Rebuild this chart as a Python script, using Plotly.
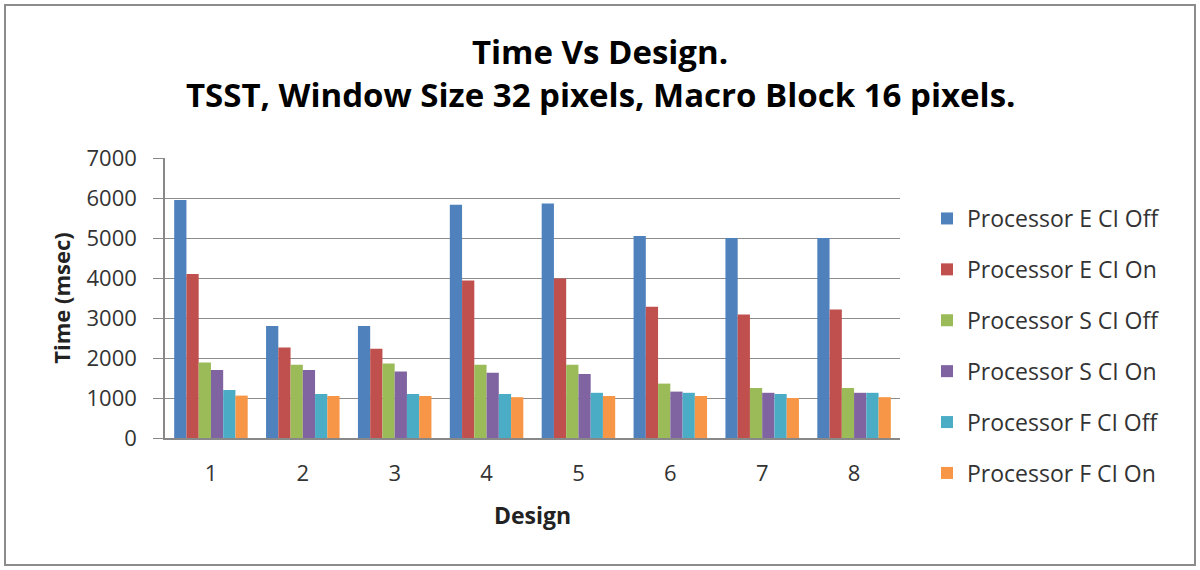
import plotly.graph_objects as go

designs = ["1", "2", "3", "4", "5", "6", "7", "8"]
series_names = [
    "Processor E CI Off", "Processor E CI On",
    "Processor S CI Off", "Processor S CI On",
    "Processor F CI Off", "Processor F CI On",
]
e_off = [5950, 2800, 2800, 5830, 5860, 5050, 5000, 5000]
e_on = [4100, 2260, 2230, 3940, 3990, 3280, 3090, 3210]
s_off = [1890, 1830, 1860, 1830, 1830, 1360, 1250, 1250]
s_on = [1700, 1700, 1660, 1630, 1600, 1160, 1130, 1130]
f_off = [1200, 1100, 1100, 1100, 1130, 1130, 1100, 1130]
f_on = [1060, 1050, 1050, 1020, 1050, 1050, 1000, 1020]
colors = ["#4F81BD", "#C0504D", "#9BBB59", "#8064A2", "#4BACC6", "#F79646"]

W, H = 1200, 570
L, R, T, B = 165, 300, 158, 132
pw, ph = W - L - R, H - T - B


def px_x(x):
    return (x - L) / pw


def px_y(y):
    return (H - B - y) / ph


fig = go.Figure()
for name, vals, c in zip(series_names, [e_off, e_on, s_off, s_on, f_off, f_on], colors):
    fig.add_trace(go.Bar(x=designs, y=vals, name=name, marker_color=c,
                         marker_line_width=0, legendgroup=name))

# outer chart border
fig.add_shape(type="rect", xref="paper", yref="paper",
              x0=px_x(5), x1=px_x(1195), y0=px_y(565), y1=px_y(5),
              line=dict(color="#8c8c8c", width=2))

font = "'Open Sans', sans-serif"
# second title line (Excel uses a wide line spacing)
fig.add_annotation(text="<b>TSST, Window Size 32 pixels, Macro Block 16 pixels.</b>",
                   xref="paper", yref="paper", x=px_x(600), y=px_y(95),
                   xanchor="center", yanchor="middle", showarrow=False,
                   font=dict(size=33, family=font, color="#000000"))

fig.update_layout(
    width=W, height=H,
    margin=dict(l=L, r=R, t=T, b=B),
    paper_bgcolor="white", plot_bgcolor="white",
    font=dict(family=font, color="#333333", size=22),
    title=dict(text="<b>Time Vs Design.</b>",
               x=0.5, xref="container", xanchor="center",
               y=1 - 52 / H, yref="container", yanchor="middle",
               font=dict(size=33, family=font, color="#000000")),
    barmode="group", bargap=0.2, bargroupgap=0,
    legend=dict(x=px_x(927), xanchor="left", y=px_y(197), yanchor="top",
                tracegroupgap=18, font=dict(size=23, color="#333333"),
                maxheight=500),
    showlegend=True,
)
fig.update_xaxes(
    showline=True, linecolor="#888888", linewidth=1.5,
    ticks="", tickfont=dict(size=22), ticklabelstandoff=15,
    title=dict(text="<b>Design</b>", font=dict(size=23, color="#222222"), standoff=22),
)
fig.update_yaxes(
    range=[0, 7000], dtick=1000, showgrid=True, gridcolor="#8c8c8c", gridwidth=1.3,
    showline=True, linecolor="#888888", linewidth=1.5,
    ticks="outside", ticklen=10, tickcolor="#888888", tickfont=dict(size=22),
    ticklabelstandoff=12,
    title=dict(text="<b>Time (msec)</b>", font=dict(size=22, color="#222222"), standoff=10),
    zeroline=False,
)

fig.write_html("out.html", config={"displayModeBar": False},
               post_script="document.body.style.margin='0';")
